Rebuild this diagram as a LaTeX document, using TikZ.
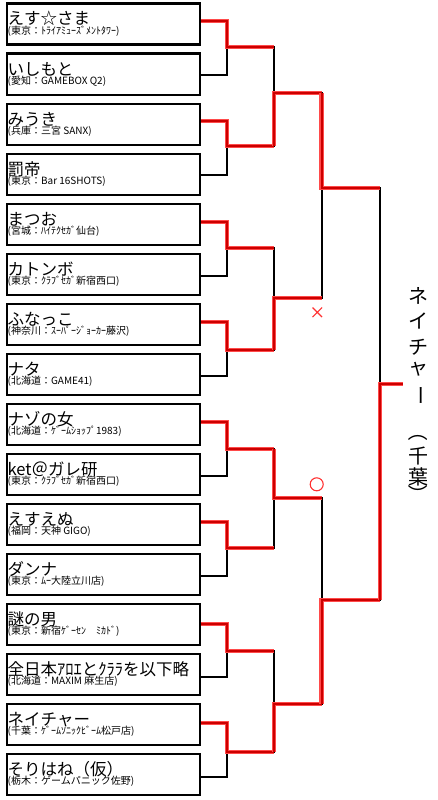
\documentclass[tikz,border=0pt]{standalone}
\usepackage{fontspec}
\newfontfamily\jpfont{Noto Sans CJK JP}
\usetikzlibrary{positioning, shapes.misc}
\definecolor{winlite}{HTML}{FF4A4A}
\definecolor{windark}{HTML}{CC0000}
\definecolor{markred}{HTML}{FF3030}

\begin{document}
\begin{tikzpicture}[x=1pt, y=-1pt,
    entry/.style={draw, line width=2.6pt, minimum width=193pt, minimum height=41pt, inner sep=0pt, anchor=north west},
    pname/.style={font=\jpfont\fontsize{16.5}{18}\selectfont, anchor=base west, inner sep=0pt},
    psub/.style={font=\jpfont\fontsize{10}{11}\selectfont, anchor=base west, inner sep=0pt},
    champchar/.style={font=\jpfont\fontsize{20}{20}\selectfont, inner sep=0pt},
    wire/.style={black, line width=1.6pt},
    win/.style={preaction={draw=winlite, line width=4.6pt}, draw=windark, line width=2pt},
]
\useasboundingbox (0,0) rectangle (437,800);

% === ENTRY BOXES (name + home arcade) ===
\foreach \name/\sub [count=\i from 0] in {
    えす☆さま/東京：ﾄﾗｲｱﾐｭｰｽﾞﾒﾝﾄﾀﾜｰ,
    いしもと/愛知：GAMEBOX Q2,
    みうき/兵庫：三宮 SANX,
    罰帝/東京：Bar 16SHOTS,
    まつお/宮城：ﾊｲﾃｸｾｶﾞ仙台,
    カトンボ/東京：ｸﾗﾌﾞｾｶﾞ新宿西口,
    ふなっこ/神奈川：ｽｰﾊﾟｰｼﾞｮｰｶｰ藤沢,
    ナタ/北海道：GAME41,
    ナゾの女/北海道：ｹﾞｰﾑｼｮｯﾌﾟ1983,
    ket＠ガレ研/東京：ｸﾗﾌﾞｾｶﾞ新宿西口,
    えすえぬ/福岡：天神 GIGO,
    ダンナ/東京：ﾑｰ大陸立川店,
    謎の男/東京：新宿ｹﾞｰｾﾝ　ﾐｶﾄﾞ,
    全日本ｱﾛｴとｸﾗﾗを以下略/北海道：MAXIM 麻生店,
    ネイチャー/千葉：ｹﾞｰﾑｿﾆｯｸﾋﾞｰﾑ松戸店,
    そりはね（仮）/栃木：ゲームパニック佐野%
}{
    \node[entry] (b\i) at (5.5, 2.5+50*\i) {};
    \node[pname] (n\i) at ([xshift=2pt, yshift=-22.5pt]b\i.north west) {\name};
    \node[psub] (s\i) at ([xshift=2pt, yshift=-32pt]b\i.north west) {(\sub)};
}

% === MATCH POINTS ===
\foreach \k/\yo in {0/47, 1/146, 2/248, 3/350, 4/449, 5/548, 6/651, 7/752}{
    \coordinate (ra\k) at (227, \yo);
}
\foreach \j/\yo in {0/93, 1/298, 2/498, 3/704}{
    \coordinate (rb\j) at (274, \yo);
}
\coordinate (rc0) at (321.7, 188);
\coordinate (rc1) at (321.7, 600);
\coordinate (rd) at (380, 384);
\coordinate (cup) at (403, 384);

% === BRACKET (black) ===
\foreach \k/\ya/\yb in {0/21/75, 1/121/175, 2/222/276, 3/322/376, 4/422/476, 5/522/576, 6/624/677, 7/723/777}{
    \pgfmathtruncatemacro{\ta}{2*\k}
    \pgfmathtruncatemacro{\tb}{2*\k+1}
    \draw[wire] (b\ta.east |- 0,\ya) -| (ra\k) |- (b\tb.east |- 0,\yb);
}
\foreach \j in {0,...,3}{
    \pgfmathtruncatemacro{\ka}{2*\j}
    \pgfmathtruncatemacro{\kb}{2*\j+1}
    \draw[wire] (ra\ka) -| (rb\j) |- (ra\kb);
}
\draw[wire] (rb0) -| (rc0) |- (rb1);
\draw[wire] (rb2) -| (rc1) |- (rb3);
\draw[wire] (rc0) -| (rd) |- (rc1);
\draw[wire] (rd) -- (cup);

% === WINNERS (red) ===
\foreach \k/\ya/\j in {0/21/0, 1/121/0, 2/222/1, 3/322/1, 4/422/2, 5/522/2, 6/624/3, 7/723/3}{
    \pgfmathtruncatemacro{\ta}{2*\k}
    \draw[win] (b\ta.east |- 0,\ya) -| (ra\k) -- (ra\k -| rb\j);
}
\foreach \a/\j/\l in {1/0/0, 3/1/0, 4/2/1, 7/3/1}{
    \draw[win] (ra\a -| rb\j) -- (rb\j) -- (rb\j -| rc\l);
}
\draw[win] (rb0 -| rc0) -- (rc0) -- (rc0 -| rd);
\draw[win] (rb3 -| rc1) -- (rc1) -- (rc1 -| rd);
\draw[win] (rc1 -| rd) -- (rd) -- (cup);

% === MARKS ===
\node[draw=markred, cross out, minimum size=8.5pt, line width=1.1pt, inner sep=0pt] (ngmark) at (317.3, 312.3) {};
\node[draw=markred, circle, minimum size=13pt, line width=1.1pt, inner sep=0pt] (okmark) at (316.7, 484.3) {};

% === CHAMPION (written top to bottom) ===
\foreach \ch/\yc/\rot [count=\c] in {ネ/296/0, イ/321/0, チ/347/0, ャ/369/0, ー/395/-90, （/431/-90, 千/456/0, 葉/477/0, ）/494/-90}{
    \node[champchar, rotate=\rot] (ch\c) at (418, \yc) {\ch};
}

\end{tikzpicture}
\end{document}
